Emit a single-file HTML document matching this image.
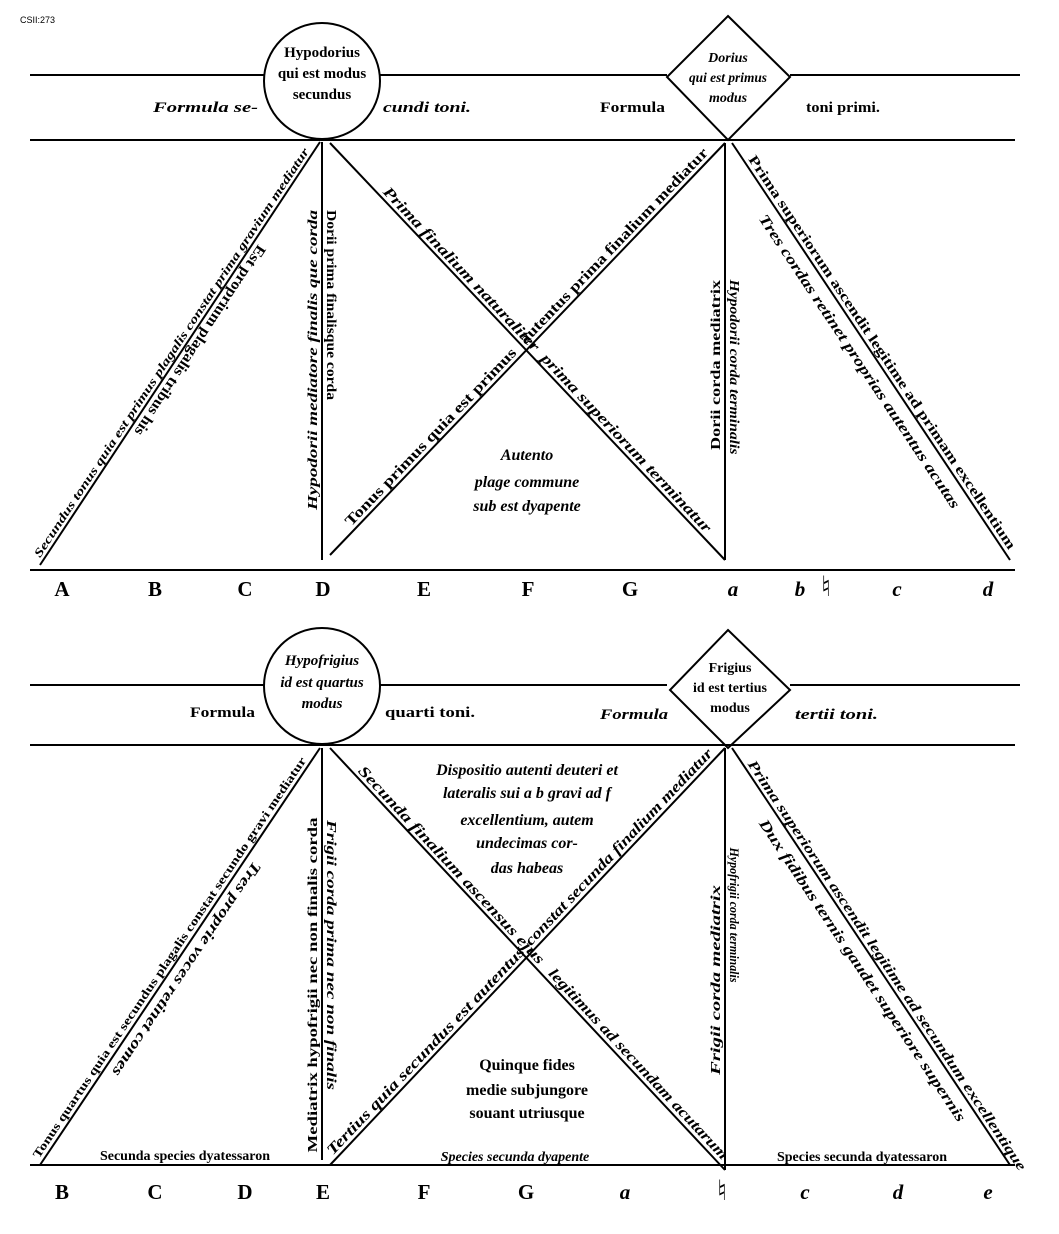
<!DOCTYPE html>
<html><head><meta charset="utf-8"><style>
html,body{margin:0;padding:0;background:#fff;}
svg{display:block;}
text{font-family:"Liberation Serif","DejaVu Serif",serif;font-weight:bold;fill:#000;}
.i{font-style:italic;}
.nat{font-family:"DejaVu Serif","DejaVu Sans",serif;font-weight:bold;}
</style></head><body>
<svg width="1059" height="1234" viewBox="0 0 1059 1234" xmlns="http://www.w3.org/2000/svg">
<g stroke="#000" stroke-width="2" fill="none">
<line x1="30" y1="75" x2="264" y2="75"/><line x1="380" y1="75" x2="667" y2="75"/><line x1="790" y1="75" x2="1020" y2="75"/>
<line x1="30" y1="140" x2="1015" y2="140"/>
<line x1="30" y1="570" x2="1015" y2="570"/>
<circle cx="322" cy="81" r="58"/>
<polygon points="728,16 790,77 728,140 667,77"/>
<line x1="40" y1="565" x2="320" y2="142"/>
<line x1="322" y1="142" x2="322" y2="560"/>
<line x1="330" y1="143" x2="725" y2="560"/>
<line x1="330" y1="555" x2="725" y2="143"/>
<line x1="725" y1="143" x2="725" y2="560"/>
<line x1="732" y1="143" x2="1010" y2="560"/>
<line x1="30" y1="685" x2="264" y2="685"/><line x1="380" y1="685" x2="667" y2="685"/><line x1="790" y1="685" x2="1020" y2="685"/>
<line x1="30" y1="745" x2="1015" y2="745"/>
<line x1="30" y1="1165" x2="1015" y2="1165"/>
<circle cx="322" cy="686" r="58"/>
<polygon points="728,630 790,690 728,748 670,690"/>
<line x1="40" y1="1165" x2="320" y2="748"/>
<line x1="322" y1="748" x2="322" y2="1160"/>
<line x1="330" y1="748" x2="725" y2="1170"/>
<line x1="330" y1="1165" x2="725" y2="748"/>
<line x1="725" y1="748" x2="725" y2="1170"/>
<line x1="732" y1="748" x2="1010" y2="1165"/>
</g>

<text x="20" y="23" style="font-size:9px;font-weight:normal;font-family:'Liberation Sans',sans-serif">CSII:273</text>

<g font-size="15" text-anchor="middle">
<text x="322" y="57">Hypodorius</text>
<text x="322" y="78">qui est modus</text>
<text x="322" y="99">secundus</text>
<text class="i" x="728" y="62" font-size="14">Dorius</text>
<text class="i" x="728" y="82" font-size="14" textLength="78" lengthAdjust="spacingAndGlyphs">qui est primus</text>
<text class="i" x="728" y="102" font-size="14">modus</text>
</g>
<g font-size="15">
<text class="i" x="153" y="112" textLength="105" lengthAdjust="spacingAndGlyphs">Formula  se-</text>
<text class="i" x="383" y="112" textLength="88" lengthAdjust="spacingAndGlyphs">cundi toni.</text>
<text x="600" y="112" textLength="65" lengthAdjust="spacingAndGlyphs">Formula</text>
<text x="806" y="112" textLength="74" lengthAdjust="spacingAndGlyphs">toni primi.</text>
</g>

<g text-anchor="middle">
<text class="i" font-size="12" transform="translate(178,357) rotate(-56.5)" y="-4" textLength="488" lengthAdjust="spacingAndGlyphs">Secundus tonus quia est primus plagalis constat prima gravium mediatur</text>
<text font-size="15" transform="translate(192,335) rotate(123.5)" y="-5" textLength="225" lengthAdjust="spacingAndGlyphs">Est proprium plagalis tribus his</text>
<text class="i" font-size="14" transform="translate(322,360) rotate(-90)" y="-5" textLength="300" lengthAdjust="spacingAndGlyphs">Hypodorii mediatore finalis que corda</text>
<text font-size="14" transform="translate(322,305) rotate(90)" y="-5" textLength="190" lengthAdjust="spacingAndGlyphs">Dorii prima finalisque corda</text>
<text class="i" font-size="15" transform="translate(455,275) rotate(46.55)" y="-4" textLength="220" lengthAdjust="spacingAndGlyphs">Prima finalium naturaliter</text>
<text class="i" font-size="15" transform="translate(620,449) rotate(46.55)" y="-4" textLength="240" lengthAdjust="spacingAndGlyphs">prima superiorum terminatur</text>
<text font-size="15" transform="translate(437,443) rotate(-46.2)" y="-4" textLength="240" lengthAdjust="spacingAndGlyphs">Tonus primus quia est primus</text>
<text font-size="15" transform="translate(620,252) rotate(-46.2)" y="-4" textLength="265" lengthAdjust="spacingAndGlyphs">autentus prima finalium mediatur</text>
<text font-size="14" transform="translate(725,365) rotate(-90)" y="-5" textLength="170" lengthAdjust="spacingAndGlyphs">Dorii corda mediatrix</text>
<text class="i" font-size="14" transform="translate(725,367) rotate(90)" y="-5" textLength="175" lengthAdjust="spacingAndGlyphs">Hypodorii corda terminalis</text>
<text font-size="14" transform="translate(875,357) rotate(56.3)" y="-4" textLength="470" lengthAdjust="spacingAndGlyphs">Prima superiorum ascendit legitime ad primam excellentium</text>
<text class="i" font-size="15" transform="translate(872,353) rotate(56.3)" y="20" textLength="350" lengthAdjust="spacingAndGlyphs">Tres cordas retinet proprias autentus acutas</text>
</g>
<g font-size="16" text-anchor="middle">
<text class="i" x="527" y="460">Autento</text>
<text class="i" x="527" y="487">plage commune</text>
<text class="i" x="527" y="511">sub est dyapente</text>
</g>

<g font-size="21" text-anchor="middle">
<text x="62" y="596">A</text><text x="155" y="596">B</text><text x="245" y="596">C</text><text x="323" y="596">D</text>
<text x="424" y="596">E</text><text x="528" y="596">F</text><text x="630" y="596">G</text>
<text class="i" x="733" y="596">a</text><text class="i" x="800" y="596">b</text><text class="nat" x="826" y="596" font-size="28">♮</text>
<text class="i" x="897" y="596">c</text><text class="i" x="988" y="596">d</text>
</g>

<g font-size="15" text-anchor="middle">
<text class="i" x="322" y="665">Hypofrigius</text>
<text class="i" x="322" y="687">id est quartus</text>
<text class="i" x="322" y="708">modus</text>
<text x="730" y="672" font-size="14">Frigius</text>
<text x="730" y="692" font-size="14">id est tertius</text>
<text x="730" y="712" font-size="14">modus</text>
</g>
<g font-size="15">
<text x="190" y="717" textLength="65" lengthAdjust="spacingAndGlyphs">Formula</text>
<text x="385" y="717" textLength="90" lengthAdjust="spacingAndGlyphs">quarti toni.</text>
<text class="i" x="600" y="719" textLength="68" lengthAdjust="spacingAndGlyphs">Formula</text>
<text class="i" x="795" y="719" textLength="83" lengthAdjust="spacingAndGlyphs">tertii toni.</text>
</g>

<g text-anchor="middle">
<text font-size="12" transform="translate(176,962) rotate(-56.1)" y="-4" textLength="480" lengthAdjust="spacingAndGlyphs">Tonus quartus quia est secundus plagalis constat secundo gravi mediatur</text>
<text class="i" font-size="15" transform="translate(176,962) rotate(123.9)" y="-8" textLength="255" lengthAdjust="spacingAndGlyphs">Tres proprie voces retinet comes</text>
<text font-size="14" transform="translate(322,985) rotate(-90)" y="-5" textLength="335" lengthAdjust="spacingAndGlyphs">Mediatrix hypofrigii nec non finalis corda</text>
<text class="i" font-size="14" transform="translate(322,955) rotate(90)" y="-5" textLength="270" lengthAdjust="spacingAndGlyphs">Frigii corda prima nec non finalis</text>
<text class="i" font-size="15" transform="translate(445,871) rotate(46.9)" y="-4" textLength="265" lengthAdjust="spacingAndGlyphs">Secunda finalium ascensus ejus</text>
<text class="i" font-size="15" transform="translate(632,1070) rotate(46.9)" y="-4" textLength="255" lengthAdjust="spacingAndGlyphs">legitimus ad secundam acutarum</text>
<text class="i" font-size="15" transform="translate(432,1057) rotate(-46.5)" y="-4" textLength="280" lengthAdjust="spacingAndGlyphs">Tertius quia secundus est autentus</text>
<text class="i" font-size="15" transform="translate(625,853) rotate(-46.5)" y="-4" textLength="265" lengthAdjust="spacingAndGlyphs">constat secunda finalium mediatur</text>
<text class="i" font-size="14" transform="translate(725,980) rotate(-90)" y="-5" textLength="190" lengthAdjust="spacingAndGlyphs">Frigii corda mediatrix</text>
<text class="i" font-size="13" transform="translate(725,915) rotate(90)" y="-5" textLength="135" lengthAdjust="spacingAndGlyphs">Hypofrigii corda terminalis</text>
<text class="i" font-size="14" transform="translate(880,970) rotate(56.3)" y="-4" textLength="490" lengthAdjust="spacingAndGlyphs">Prima superiorum ascendit legitime ad secundum excellentique</text>
<text class="i" font-size="15" transform="translate(875,962) rotate(56.3)" y="20" textLength="360" lengthAdjust="spacingAndGlyphs">Dux fidibus ternis gaudet superiore supernis</text>
</g>
<g font-size="16" text-anchor="middle">
<text class="i" x="527" y="775">Dispositio autenti deuteri et</text>
<text class="i" x="527" y="798">lateralis sui a b gravi ad f</text>
<text class="i" x="527" y="825">excellentium, autem</text>
<text class="i" x="527" y="848">undecimas cor-</text>
<text class="i" x="527" y="873">das habeas</text>
<text x="527" y="1070">Quinque fides</text>
<text x="527" y="1095">medie subjungore</text>
<text x="527" y="1118">souant utriusque</text>
</g>
<g font-size="14" text-anchor="middle">
<text x="185" y="1160">Secunda species dyatessaron</text>
<text class="i" x="515" y="1161">Species secunda dyapente</text>
<text x="862" y="1161">Species secunda dyatessaron</text>
</g>

<g font-size="21" text-anchor="middle">
<text x="62" y="1199">B</text><text x="155" y="1199">C</text><text x="245" y="1199">D</text><text x="323" y="1199">E</text>
<text x="424" y="1199">F</text><text x="526" y="1199">G</text><text class="i" x="625" y="1199">a</text>
<text class="nat" x="722" y="1200" font-size="28">♮</text><text class="i" x="805" y="1199">c</text><text class="i" x="898" y="1199">d</text><text class="i" x="988" y="1199">e</text>
</g>
</svg>
</body></html>
